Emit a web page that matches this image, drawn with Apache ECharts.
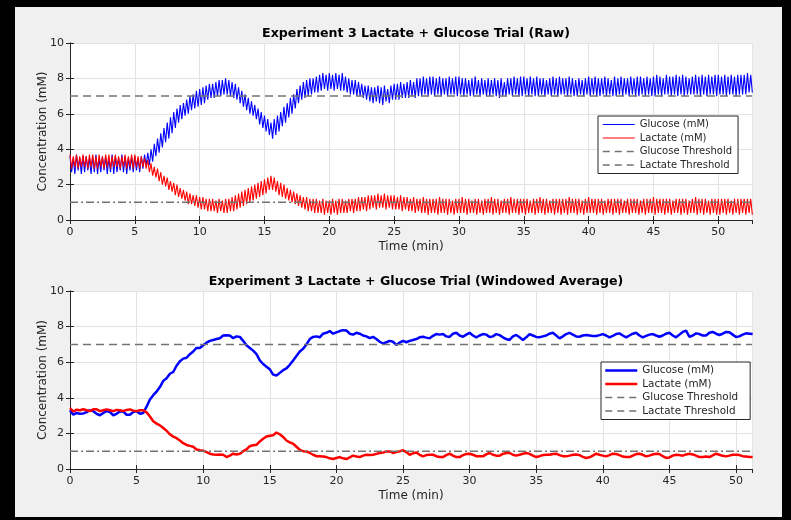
<!DOCTYPE html>
<html>
<head>
<meta charset="utf-8">
<script src="https://cdn.jsdelivr.net/npm/echarts@6/dist/echarts.min.js"></script>
<style>
  body { margin: 0; background: #000; }
  #frame {
    width: 791px; height: 520px; box-sizing: border-box;
    border-style: solid; border-color: #000; border-width: 7px 9px 3px 15px;
    background: #f0f0f0;
  }
  #chart { width: 767px; height: 510px; }
</style>
</head>
<body>
<div id="frame"><div id="chart"></div></div>
<script>
// raw sensor trace, one value every 0.125 min (rows = one minute)
const rawStep = 0.125;
const glucoseRaw = [
  3.6,2.7,3.5,2.6,3.7,2.8,3.5,2.6,
  3.6,2.7,3.6,2.8,3.5,2.6,3.6,2.7,
  3.7,2.6,3.5,2.7,3.6,2.8,3.6,2.6,
  3.5,2.7,3.7,2.6,3.6,2.7,3.5,2.8,
  3.7,2.7,3.6,2.6,3.5,2.8,3.6,2.7,
  3.6,2.8,3.5,2.7,3.6,2.9,3.7,3.1,
  3.8,3.1,4.0,3.3,4.3,3.6,4.6,3.8,
  4.9,4.1,5.2,4.4,5.5,4.6,5.8,4.9,
  6.1,5.2,6.3,5.5,6.5,5.7,6.6,5.9,
  6.8,6.0,7.0,6.2,7.1,6.3,7.3,6.4,
  7.4,6.5,7.5,6.6,7.6,6.8,7.7,6.9,
  7.7,6.9,7.8,7.0,7.9,7.0,7.9,7.1,
  8.0,7.1,7.9,7.0,7.8,6.9,7.7,6.8,
  7.5,6.6,7.3,6.4,7.1,6.2,6.9,6.0,
  6.7,5.9,6.5,5.7,6.3,5.4,6.1,5.2,
  5.9,5.0,5.7,4.8,5.5,4.6,5.7,4.8,
  5.9,5.0,6.1,5.3,6.4,5.5,6.6,5.8,
  6.9,6.0,7.1,6.3,7.4,6.6,7.6,6.8,
  7.8,6.9,7.9,7.0,8.0,7.1,8.0,7.2,
  8.1,7.2,8.2,7.3,8.3,7.4,8.2,7.3,
  8.3,7.4,8.2,7.3,8.3,7.4,8.2,7.3,
  8.3,7.3,8.1,7.2,8.0,7.1,7.9,7.1,
  7.9,7.0,7.8,7.0,7.7,6.9,7.6,6.8,
  7.6,6.7,7.5,6.6,7.5,6.7,7.6,6.6,
  7.5,6.5,7.6,6.7,7.4,6.6,7.6,6.8,
  7.7,6.8,7.7,6.8,7.8,6.9,7.7,6.9,
  7.8,6.9,7.9,7.0,7.8,6.9,8.0,7.0,
  8.0,7.0,8.1,7.1,8.0,7.0,8.1,7.1,
  8.1,7.0,8.0,7.1,8.1,7.0,8.0,7.1,
  8.0,7.0,8.1,7.1,8.0,7.1,8.1,7.0,
  8.1,7.1,8.0,7.0,8.0,7.1,7.9,7.0,
  8.0,7.0,8.1,7.1,7.9,7.0,8.0,7.1,
  7.9,7.0,8.0,7.0,7.9,7.1,8.0,7.0,
  7.9,6.9,8.0,7.0,7.8,7.0,8.0,7.1,
  8.0,7.0,8.1,7.1,8.0,7.0,8.1,7.0,
  8.1,7.1,8.0,7.0,8.1,7.1,8.0,7.0,
  8.1,7.0,8.0,7.1,8.0,7.0,7.9,7.1,
  8.0,7.0,8.1,7.1,8.0,7.0,8.1,7.1,
  8.0,7.1,8.0,7.0,8.1,7.1,8.0,7.0,
  7.9,7.0,8.0,7.1,7.9,7.0,8.0,7.1,
  8.1,7.0,8.0,7.1,8.1,7.0,8.0,7.0,
  8.0,7.1,8.1,7.0,8.0,7.1,7.9,7.0,
  8.1,7.0,8.0,7.1,8.1,7.0,8.0,7.1,
  8.0,7.0,8.1,7.1,8.0,7.0,8.1,7.0,
  8.1,7.1,8.0,7.0,8.1,7.1,8.0,7.0,
  8.1,7.0,8.2,7.1,8.1,7.0,8.0,7.1,
  8.2,7.1,8.1,7.0,8.1,7.1,8.2,7.0,
  8.1,7.1,8.2,7.0,8.1,7.1,8.0,7.1,
  8.1,7.1,8.2,7.1,8.1,7.0,8.2,7.1,
  8.1,7.0,8.2,7.1,8.1,7.1,8.2,7.0,
  8.2,7.1,8.1,7.1,8.2,7.0,8.1,7.1,
  8.2,7.1,8.1,7.0,8.2,7.1,8.2,7.1,
  8.2,7.1,8.3,7.2,8.2,7.2
];
const lactateRaw = [
  3.7,2.9,3.6,3.0,3.7,2.9,3.6,3.0,
  3.7,3.0,3.6,2.9,3.7,3.0,3.7,2.9,
  3.6,2.9,3.7,3.0,3.6,2.9,3.7,3.0,
  3.7,2.9,3.6,3.0,3.7,3.0,3.6,2.9,
  3.6,3.0,3.7,2.9,3.6,3.0,3.7,2.9,
  3.7,3.0,3.6,2.9,3.6,3.0,3.5,2.9,
  3.4,2.7,3.2,2.5,3.0,2.4,2.9,2.2,
  2.7,2.0,2.5,1.9,2.4,1.7,2.2,1.6,
  2.1,1.4,2.0,1.3,1.8,1.2,1.7,1.1,
  1.6,0.9,1.5,0.9,1.4,0.8,1.4,0.7,
  1.3,0.6,1.3,0.6,1.2,0.5,1.2,0.5,
  1.2,0.5,1.1,0.4,1.2,0.5,1.1,0.4,
  1.2,0.4,1.2,0.5,1.3,0.5,1.4,0.6,
  1.5,0.7,1.6,0.8,1.7,0.9,1.8,1.0,
  1.9,1.1,2.0,1.2,2.1,1.3,2.2,1.4,
  2.3,1.5,2.4,1.7,2.5,1.7,2.4,1.6,
  2.2,1.4,2.1,1.3,2.0,1.2,1.8,1.1,
  1.7,1.0,1.6,0.9,1.5,0.8,1.4,0.7,
  1.3,0.6,1.3,0.5,1.2,0.5,1.2,0.4,
  1.2,0.4,1.1,0.4,1.2,0.3,1.1,0.4,
  1.1,0.3,1.2,0.4,1.1,0.3,1.2,0.4,
  1.2,0.4,1.1,0.4,1.2,0.5,1.2,0.4,
  1.2,0.5,1.3,0.5,1.3,0.6,1.3,0.5,
  1.4,0.6,1.4,0.7,1.4,0.6,1.5,0.7,
  1.4,0.7,1.5,0.6,1.4,0.7,1.4,0.6,
  1.4,0.6,1.3,0.6,1.4,0.5,1.3,0.6,
  1.3,0.5,1.2,0.5,1.3,0.4,1.2,0.5,
  1.2,0.4,1.3,0.4,1.2,0.3,1.2,0.4,
  1.2,0.4,1.2,0.3,1.3,0.4,1.2,0.4,
  1.2,0.3,1.2,0.4,1.1,0.3,1.2,0.4,
  1.2,0.4,1.3,0.4,1.2,0.3,1.2,0.4,
  1.1,0.4,1.2,0.3,1.2,0.4,1.1,0.3,
  1.2,0.4,1.2,0.4,1.3,0.3,1.2,0.4,
  1.2,0.3,1.1,0.4,1.2,0.4,1.2,0.3,
  1.3,0.4,1.2,0.4,1.2,0.3,1.2,0.4,
  1.2,0.3,1.2,0.4,1.1,0.4,1.2,0.3,
  1.2,0.4,1.3,0.4,1.2,0.3,1.2,0.4,
  1.1,0.4,1.2,0.3,1.2,0.4,1.2,0.3,
  1.2,0.4,1.2,0.3,1.3,0.4,1.2,0.4,
  1.2,0.3,1.2,0.4,1.1,0.3,1.2,0.4,
  1.3,0.4,1.2,0.4,1.2,0.3,1.2,0.4,
  1.2,0.3,1.1,0.4,1.2,0.4,1.2,0.3,
  1.2,0.4,1.2,0.3,1.2,0.4,1.1,0.4,
  1.2,0.3,1.2,0.4,1.2,0.4,1.2,0.3,
  1.1,0.4,1.2,0.3,1.2,0.4,1.2,0.4,
  1.3,0.3,1.2,0.4,1.2,0.4,1.2,0.3,
  1.2,0.4,1.2,0.3,1.1,0.4,1.2,0.4,
  1.2,0.3,1.2,0.4,1.2,0.3,1.1,0.4,
  1.2,0.4,1.3,0.3,1.2,0.4,1.2,0.3,
  1.2,0.4,1.1,0.3,1.2,0.4,1.2,0.3,
  1.2,0.3,1.2,0.4,1.2,0.3,1.2,0.4,
  1.1,0.3,1.2,0.4,1.2,0.3,1.2,0.4,
  1.2,0.3,1.2,0.4,1.2,0.3
];

// windowed average, one value every 0.25 min (rows = one minute)
const avgStep = 0.25;
const glucoseAvg = [
  3.3,3.05,3.15,3.1,  3.12,3.2,3.3,3.25,  3.1,3.02,3.15,3.25,  3.2,3.02,3.1,3.25,
  3.22,3.05,3.05,3.2, 3.25,3.1,3.15,3.5,  3.9,4.15,4.35,4.6,   4.95,5.1,5.35,5.45,
  5.8,6.05,6.2,6.25,  6.45,6.6,6.8,6.8,   6.95,7.1,7.2,7.25,   7.3,7.35,7.5,7.52,
  7.5,7.35,7.45,7.42, 7.2,6.95,6.8,6.65,  6.45,6.1,5.9,5.75,   5.6,5.3,5.25,5.4,
  5.55,5.65,5.85,6.1, 6.35,6.6,6.75,7.0,  7.3,7.42,7.45,7.4,   7.6,7.65,7.75,7.6,
  7.68,7.75,7.8,7.78, 7.6,7.55,7.65,7.6,  7.5,7.45,7.35,7.42,  7.3,7.15,7.05,7.12,
  7.2,7.15,6.97,7.1,  7.2,7.12,7.2,7.25,  7.3,7.4,7.43,7.38,   7.34,7.48,7.58,7.55,
  7.58,7.45,7.42,7.6, 7.65,7.5,7.43,7.55, 7.65,7.5,7.4,7.5,    7.58,7.55,7.42,7.45,
  7.58,7.52,7.4,7.3,  7.25,7.45,7.53,7.4, 7.25,7.4,7.58,7.5,   7.42,7.4,7.45,7.5,
  7.6,7.65,7.5,7.34,  7.45,7.58,7.65,7.55, 7.45,7.43,7.5,7.53, 7.5,7.47,7.47,7.52,
  7.58,7.5,7.4,7.48,  7.58,7.62,7.5,7.4,  7.5,7.6,7.65,7.5,    7.4,7.48,7.55,7.58,
  7.5,7.43,7.5,7.6,   7.65,7.5,7.4,7.55,  7.7,7.77,7.42,7.5,   7.62,7.58,7.5,7.5,
  7.65,7.7,7.6,7.53,  7.6,7.7,7.68,7.55,  7.42,7.45,7.55,7.62, 7.6,7.58
];
const lactateAvg = [
  3.42,3.23,3.33,3.3, 3.36,3.3,3.25,3.35, 3.35,3.25,3.3,3.35,  3.3,3.25,3.32,3.3,
  3.25,3.32,3.35,3.28, 3.25,3.3,3.3,3.18, 2.95,2.68,2.55,2.45, 2.3,2.15,1.95,1.82,
  1.73,1.6,1.45,1.35, 1.3,1.25,1.1,1.05,  1.03,0.95,0.86,0.82, 0.8,0.82,0.8,0.67,
  0.75,0.86,0.82,0.86, 1.0,1.1,1.28,1.33, 1.36,1.55,1.7,1.83,  1.87,1.9,2.05,1.95,
  1.8,1.6,1.5,1.42,   1.25,1.08,1.0,0.99, 0.9,0.8,0.72,0.71,   0.7,0.67,0.6,0.56,
  0.62,0.67,0.6,0.56, 0.65,0.75,0.7,0.67, 0.75,0.8,0.78,0.8,   0.85,0.9,0.92,0.99,
  0.99,0.9,0.95,0.99, 1.05,0.95,0.8,0.88, 0.93,0.8,0.71,0.78,  0.8,0.8,0.72,0.67,
  0.67,0.78,0.86,0.75, 0.67,0.67,0.78,0.84, 0.86,0.8,0.72,0.71, 0.71,0.82,0.9,0.8,
  0.75,0.75,0.85,0.9, 0.9,0.8,0.75,0.8,   0.86,0.9,0.85,0.75,  0.67,0.72,0.78,0.8,
  0.8,0.84,0.86,0.78, 0.72,0.71,0.75,0.8, 0.82,0.78,0.68,0.62, 0.66,0.75,0.86,0.8,
  0.75,0.71,0.78,0.86, 0.84,0.78,0.7,0.67, 0.67,0.75,0.84,0.86, 0.8,0.71,0.75,0.82,
  0.86,0.84,0.72,0.62, 0.65,0.75,0.8,0.78, 0.75,0.82,0.86,0.82, 0.75,0.67,0.67,0.7,
  0.67,0.76,0.86,0.8, 0.74,0.71,0.75,0.8, 0.8,0.78,0.72,0.7,   0.68,0.67
];

const glucoseThreshold = 7;
const lactateThreshold = 1;
const rawTimeMax = 52.6;
const avgTimeMax = 51.2;
const yTicks = [0, 10, 2];   // min, max, step
const xTickStep = 5;

const FONT = 'DejaVu Sans';
const INK = '#262626';
const GRID_LINE = '#e3e3e3';
const THRESH = '#737373';

function withTime(values, step) {
  return values.map((v, i) => [+(i * step).toFixed(3), v]);
}

function xAxes(gridIndex, max) {
  const base = {
    gridIndex, type: 'value', min: 0, max, interval: xTickStep,
    axisLine: { show: true, lineStyle: { color: INK, width: 1 } },
    axisTick: { show: true, inside: true, length: 4, lineStyle: { color: INK } }
  };
  return [
    Object.assign({}, base, {
      position: 'bottom',
      axisLabel: { color: INK, fontSize: 11, margin: 7, fontFamily: FONT, showMaxLabel: false },
      splitLine: { show: true, lineStyle: { color: GRID_LINE, width: 1 } },
      name: 'Time (min)', nameLocation: 'middle', nameGap: 21, nameMoveOverlap: false,
      nameTextStyle: { color: INK, fontSize: 12, fontFamily: FONT }
    }),
    Object.assign({}, base, {
      position: 'top', axisLabel: { show: false }, splitLine: { show: false }
    })
  ];
}

function yAxes(gridIndex) {
  const base = {
    gridIndex, type: 'value', min: yTicks[0], max: yTicks[1], interval: yTicks[2],
    axisLine: { show: true, lineStyle: { color: INK, width: 1 } },
    axisTick: { show: true, inside: true, length: 4, lineStyle: { color: INK } }
  };
  return [
    Object.assign({}, base, {
      position: 'left',
      axisLabel: { color: INK, fontSize: 11, margin: 6, fontFamily: FONT },
      splitLine: { show: true, lineStyle: { color: GRID_LINE, width: 1 } },
      name: 'Concentration (mM)', nameLocation: 'middle', nameGap: 21, nameMoveOverlap: false,
      nameTextStyle: { color: INK, fontSize: 12, fontFamily: FONT }
    }),
    Object.assign({}, base, {
      position: 'right', axisLabel: { show: false }, splitLine: { show: false }
    })
  ];
}

function lineSeries(name, data, axis, color, width, type) {
  return {
    name, type: 'line', data,
    xAxisIndex: axis, yAxisIndex: axis,
    symbol: 'none', showSymbol: false, sampling: null, clip: true,
    lineStyle: { color, width, type: type || 'solid' },
    itemStyle: { color },
    emphasis: { disabled: true }
  };
}

function thresholdSeries(name, value, max, axis, dash) {
  return lineSeries(name, [[0, value], [max, value]], axis, THRESH, 1.5, dash);
}

function legend(left, top, thick) {
  const lw = thick ? 2.5 : 1;
  const hide = { opacity: 0, color: 'transparent', borderWidth: 0 };
  return {
    orient: 'vertical', left, top,
    itemWidth: 32, itemHeight: 8, itemGap: 0.5,
    padding: thick ? [2, 12, 2, 3] : [2, 6, 2, 4],
    backgroundColor: '#fff', borderColor: INK, borderWidth: 1, borderRadius: 0,
    selectedMode: false,
    itemStyle: hide,
    textStyle: { color: INK, fontSize: thick ? 10.4 : 10, lineHeight: 13, fontFamily: FONT },
    data: [
      { name: 'Glucose (mM)', itemStyle: hide, lineStyle: { width: lw, color: '#0000ff', opacity: 1 } },
      { name: 'Lactate (mM)', itemStyle: hide, lineStyle: { width: lw, color: '#ff0000', opacity: 1 } },
      { name: 'Glucose Threshold', itemStyle: hide, lineStyle: { width: 1.5, color: THRESH, type: [7, 5], opacity: 1 } },
      { name: 'Lactate Threshold', itemStyle: hide, lineStyle: { width: 1.5, color: THRESH, type: [7, 5], opacity: 1 } }
    ]
  };
}

const chart = echarts.init(document.getElementById('chart'), null, { renderer: 'canvas' });

const option = {
  animation: false,
  backgroundColor: '#f0f0f0',
  textStyle: { fontFamily: FONT },
  title: [
    {
      text: 'Experiment 3 Lactate + Glucose Trial (Raw)',
      left: 396, top: 15, textAlign: 'center',
      textStyle: { fontSize: 12.6, fontWeight: 'bold', color: '#000', fontFamily: FONT }
    },
    {
      text: 'Experiment 3 Lactate + Glucose Trial (Windowed Average)',
      left: 396, top: 263, textAlign: 'center',
      textStyle: { fontSize: 12.6, fontWeight: 'bold', color: '#000', fontFamily: FONT }
    }
  ],
  grid: [
    { left: 55, top: 36, width: 682, height: 177, show: true, backgroundColor: '#fff', borderWidth: 0 },
    { left: 55, top: 284, width: 682, height: 178, show: true, backgroundColor: '#fff', borderWidth: 0 }
  ],
  xAxis: xAxes(0, rawTimeMax).concat(xAxes(1, avgTimeMax)),
  yAxis: yAxes(0).concat(yAxes(1)),
  legend: [legend(583, 109, false), legend(586, 355, true)],
  series: [
    lineSeries('Glucose (mM)', withTime(glucoseRaw, rawStep), 0, '#0000ff', 1.1),
    lineSeries('Lactate (mM)', withTime(lactateRaw, rawStep), 0, '#ff0000', 1.1),
    thresholdSeries('Glucose Threshold', glucoseThreshold, rawTimeMax, 0, [8, 5]),
    thresholdSeries('Lactate Threshold', lactateThreshold, rawTimeMax, 0, [8, 3, 2, 3]),
    lineSeries('Glucose (mM)', withTime(glucoseAvg, avgStep), 2, '#0000ff', 2.5),
    lineSeries('Lactate (mM)', withTime(lactateAvg, avgStep), 2, '#ff0000', 2.5),
    thresholdSeries('Glucose Threshold', glucoseThreshold, avgTimeMax, 2, [8, 5]),
    thresholdSeries('Lactate Threshold', lactateThreshold, avgTimeMax, 2, [8, 3, 2, 3])
  ]
};

chart.setOption(option);
</script>
</body>
</html>
